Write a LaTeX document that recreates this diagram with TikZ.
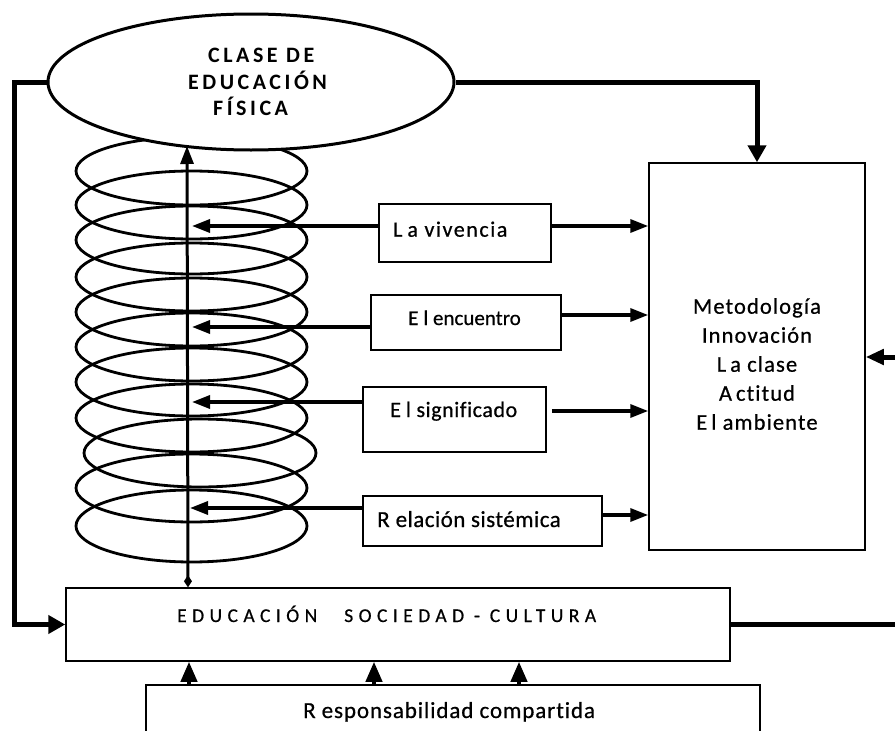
\documentclass[tikz,border=0pt]{standalone}
\usepackage{fontspec}
\setmainfont[Ligatures=NoCommon]{Carlito}
\usetikzlibrary{arrows.meta,shapes.geometric}
\newcommand{\lsfont}[2]{\fontsize{#1}{29}\selectfont\addfontfeature{LetterSpace=#2,FakeBold=0.6}}
\begin{document}
\begin{tikzpicture}[x=1pt,y=-1pt,
  box/.style={draw, line width=1.5pt, inner sep=0pt},
  coilring/.style={draw, line width=2.8pt},
  thickarrow/.style={line width=5pt, -{Triangle[length=17pt,width=18pt]}},
  thinarrow/.style={line width=3.3pt, -{Triangle[length=18pt,width=13pt]}},
  uparrow/.style={line width=4pt, -{Triangle[length=20pt,width=16pt]}},
  lbl/.style={anchor=base west, inner sep=0pt},
  eltext/.style={lbl, font=\fontsize{22}{25}\selectfont\bfseries\addfontfeature{LetterSpace=16}},
]
\useasboundingbox (0,0) rectangle (895,731);

% coil
\foreach \yy in {171,205,240,277,312,347,382,418,488}
  \draw[coilring] (191.5,\yy) ellipse [x radius=115.5, y radius=34];
\draw[coilring] (200,453) ellipse [x radius=116, y radius=34];
\draw[coilring] (191.5,526) ellipse [x radius=115.5, y radius=36];

% top ellipse
\node[ellipse, draw, fill=white, line width=3pt, minimum width=406pt, minimum height=136pt, inner sep=0pt] (top) at (251,82) {};
\node[eltext] (t1) at (208,62.7) {CLASE DE};
\node[eltext] (t2) at (188,89.3) {EDUCACIÓN};
\node[eltext] (t3) at (213,115) {FÍSICA};

% big right box
\node[box, minimum width=216pt, minimum height=387pt] (mbox) at (757,356.5) {};
\node[inner sep=0pt, align=center, font=\lsfont{22.5}{5}] (mtext) at (757,364)
  {Metodología\\Innovación\\L\kern4pt a clase\\A\kern4pt ctitud\\E\kern4pt l ambiente};

% small boxes
\node[box, minimum width=172pt, minimum height=58pt] (viv) at (465,233) {};
\node[lbl, font=\lsfont{22}{7}] (vivt) at (393,236.7) {L\kern5pt a vivencia};
\node[box, minimum width=190pt, minimum height=55pt] (enc) at (466,322.5) {};
\node[lbl, font=\lsfont{21}{0}] (enct) at (408,325) {E\kern5pt l encuentro};
\node[box, minimum width=183pt, minimum height=65pt] (sig) at (454.5,419.5) {};
\node[lbl, font=\lsfont{22}{2.5}] (sigt) at (390,417) {E\kern5pt l significado};
\node[box, minimum width=239pt, minimum height=50pt] (rel) at (482.5,521) {};
\node[lbl, font=\lsfont{23}{2}] (relt) at (377,527) {R\kern6pt elación sistémica};

% education box
\node[box, minimum width=664pt, minimum height=73pt] (edu) at (398,624.5) {};
\node[lbl, font=\lsfont{19.5}{28}] (edut) at (177,622) {EDUCACIÓN\hspace{27pt}SOCIEDAD - CULTURA};

% responsabilidad box
\node[box, minimum width=614pt, minimum height=60pt] (resp) at (453,715) {};
\node[lbl, font=\lsfont{23}{4}] (respt) at (303,718) {R\kern6pt esponsabilidad compartida};

% connectors from small boxes
\draw[thinarrow] (viv.west |- 0,226) -- (192,226);
\draw[thinarrow] (viv.east |- 0,226) -- (mbox.west |- 0,226);
\draw[thinarrow] (enc.west |- 0,327) -- (192,327);
\draw[thinarrow] (enc.east |- 0,315) -- (mbox.west |- 0,315);
\draw[thinarrow] (sig.west |- 0,402) -- (192,402);
\draw[thinarrow] ([xshift=5pt]sig.east |- 0,411) -- (mbox.west |- 0,411);
\draw[thinarrow] (rel.west |- 0,508) -- (190,508);
\draw[thinarrow] (rel.east |- 0,515) -- (mbox.west |- 0,515);

% vertical coil arrow
\coordinate (coiltop) at (187,146);
\draw[line width=3pt, {Diamond[length=12pt,width=8pt]}-{Triangle[length=18pt,width=13pt]}]
  (edu.north -| 188,0) -- (coiltop);

% bottom arrows
\foreach \xx in {189,374,519}
  \draw[uparrow] (resp.north -| \xx,0) -- (edu.south -| \xx,0);

% thick loop connectors
\draw[thickarrow] (top.west) -- (14,82) |- (edu.west);
\draw[thickarrow] (top.east) -| (mbox.north);
\coordinate (rightout) at (900,624.5);
\draw[line width=5pt] (edu.east) -- (rightout);
\coordinate (rightin) at (900,357);
\draw[line width=5pt, -{Triangle[length=18pt,width=15pt]}] (rightin) -- (mbox.east |- rightin);
\end{tikzpicture}
\end{document}
